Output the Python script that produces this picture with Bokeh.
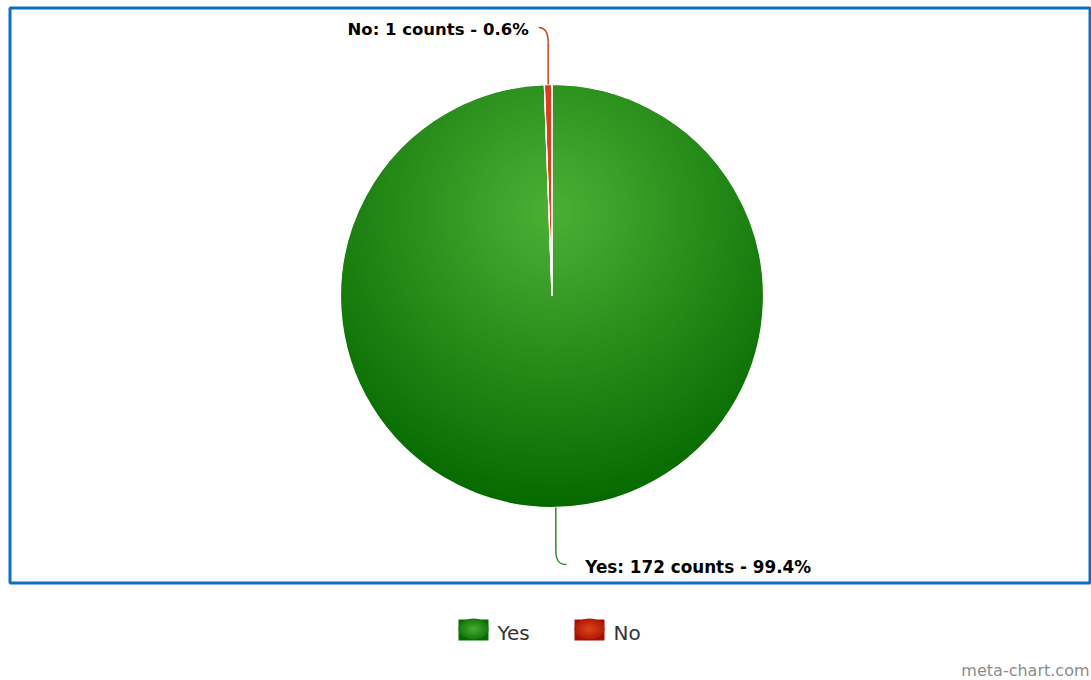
import numpy as np
from bokeh.plotting import figure
from bokeh.models import Range1d, ColumnDataSource
from bokeh.core.properties import value
from bokeh.embed import file_html
from bokeh.resources import INLINE

# ---- data ----
categories = ["Yes", "No"]
counts = [172, 1]
base_colors = ["#4cb036", "#e0481c"]
dark_colors = ["#066a00", "#a41000"]
mid_colors = ["#2a8a1e", "#d6401a"]
label_texts = ["Yes: 172 counts - 99.4%", "No: 1 counts - 0.6%"]
watermark = "meta-chart.com"

W, H = 1091, 680
p = figure(width=W, height=H, x_range=Range1d(0, W), y_range=Range1d(0, H),
           output_backend="svg", toolbar_location=None, min_border=0)
p.axis.visible = False
p.grid.visible = False
p.outline_line_color = None
p.background_fill_color = "white"
p.border_fill_color = "white"

TXT_DY = 7  # compensation for text baseline placement


def Y(yi):
    return H - yi


def hex2rgb(h):
    h = h.lstrip("#")
    return np.array([int(h[i:i + 2], 16) for i in (0, 2, 4)], dtype=float)


def lerp_hex(a, b, t):
    c = hex2rgb(a) * (1 - t) + hex2rgb(b) * t
    return "#%02x%02x%02x" % tuple(int(round(v)) for v in c)


# pie geometry
cx, cy_img, R = 551.5, 295.5, 211.5
cy = Y(cy_img)
total = sum(counts)
frac = np.array(counts) / total
cum = np.concatenate([[0], np.cumsum(frac)])
start = [np.pi / 2 - 2 * np.pi * cum[i + 1] for i in range(len(counts))]
end = [np.pi / 2 - 2 * np.pi * cum[i] for i in range(len(counts))]
mid = [(s + e) / 2 for s, e in zip(start, end)]

src = ColumnDataSource(dict(cat=categories, counts=counts, start=start, end=end,
                            color=mid_colors))

# base slices
p.wedge(x=cx, y=cy, radius=R, start_angle="start", end_angle="end", source=src,
        fill_color="color", line_color="white", line_width=1)

# radial gradient shading for the large slice (centre at 30% from top, r = 70% of bbox)
a_off = 0.4 * R
gx, gy = cx, cy + a_off
rg = 1.4 * R
N = 110
radii = [rg * (1 - k / N) for k in range(N)]
gcols = [lerp_hex(base_colors[0], dark_colors[0], r / rg) for r in radii]
w_r, w_s, w_e, w_c, c_r, c_c = [], [], [], [], [], []
for r, col in zip(radii, gcols):
    s = (R ** 2 - a_off ** 2 - r ** 2) / (2 * a_off * r) + 0.03
    if s >= 1:
        c_r.append(r); c_c.append(col)
    else:
        tb = np.arcsin(max(-1.0, s))
        w_r.append(r); w_s.append(np.pi - tb); w_e.append(2 * np.pi + tb); w_c.append(col)
p.wedge(x=[gx] * len(w_r), y=[gy] * len(w_r), radius=w_r, start_angle=w_s, end_angle=w_e,
        fill_color=w_c, line_color=None)
p.circle(x=[gx] * len(c_r), y=[gy] * len(c_r), radius=c_r, fill_color=c_c, line_color=None)

# white mask outside the pie
p.annulus(x=cx, y=cy, inner_radius=R, outer_radius=800, fill_color="white", line_color=None)

# small slice on top
p.wedge(x=cx, y=cy, radius=R, start_angle=start[1], end_angle=end[1],
        fill_color=mid_colors[1], line_color="white", line_width=1)
# slice borders
p.wedge(x=cx, y=cy, radius=R, start_angle="start", end_angle="end", source=src,
        fill_alpha=0, line_color="white", line_width=1.2)

# connectors + data labels
font_lbl = value("DejaVu Sans")
# No label (above)
ex, ey = cx + R * np.cos(mid[1]), cy + R * np.sin(mid[1])
p.segment(x0=ex, y0=ey, x1=ex, y1=Y(42), line_color="#d0401a", line_width=1.5)
p.bezier(x0=ex, y0=Y(42), x1=ex - 9.5, y1=Y(27), cx0=ex, cy0=Y(30), cx1=ex - 4, cy1=Y(27),
         line_color="#d0401a", line_width=1.5)
p.text(x=[ex - 19.5], y=[Y(36 - TXT_DY)], text=[label_texts[1]], text_font=font_lbl,
       text_font_size="16.5px", text_font_style="bold", text_color="#000000",
       text_align="right", text_baseline="alphabetic")
# Yes label (below)
ex, ey = cx + R * np.cos(mid[0]), cy + R * np.sin(mid[0])
p.segment(x0=ex, y0=ey, x1=ex, y1=Y(550), line_color="#2a8a1e", line_width=1.5)
p.bezier(x0=ex, y0=Y(550), x1=ex + 10.5, y1=Y(564), cx0=ex, cy0=Y(561), cx1=ex + 4, cy1=Y(564),
         line_color="#2a8a1e", line_width=1.5)
p.text(x=[ex + 29.5], y=[Y(573 - TXT_DY)], text=[label_texts[0]], text_font=font_lbl,
       text_font_size="16.8px", text_font_style="bold", text_color="#000000",
       text_align="left", text_baseline="alphabetic")

# blue frame
p.quad(left=9.5, right=1089.5, top=Y(7.5), bottom=Y(582.5), fill_alpha=0,
       line_color="#0d6fc0", line_width=3)

# legend
leg_x = [458, 574]
sw, sh = 30, 21
sy_top = 619
for i, cat in enumerate(categories):
    x0 = leg_x[i]
    p.quad(left=x0, right=x0 + sw, top=Y(sy_top), bottom=Y(sy_top + sh),
           fill_color=dark_colors[i], line_color=None)
    n = 8
    ws = [sw * (1 - k / n) for k in range(n)]
    hs = [sh * (1 - k / n) for k in range(n)]
    cols = [lerp_hex(base_colors[i], dark_colors[i], 0.75 * (1 - k / n)) for k in range(n)]
    p.ellipse(x=[x0 + sw / 2] * n, y=[Y(sy_top + sh * 0.45)] * n, width=ws, height=hs,
              fill_color=cols, line_color=None)
    p.text(x=[x0 + sw + 9], y=[Y(639 - TXT_DY)], text=[cat], text_font=value("DejaVu Sans"),
           text_font_size="20px", text_color="#333333", text_align="left",
           text_baseline="alphabetic")

# watermark
p.text(x=[1089], y=[Y(677 - TXT_DY)], text=[watermark], text_font=value("DejaVu Sans"),
       text_font_size="16px", text_color="#8c8c8c", text_align="right",
       text_baseline="alphabetic")

open("out.html", "w").write(file_html(p, INLINE))
